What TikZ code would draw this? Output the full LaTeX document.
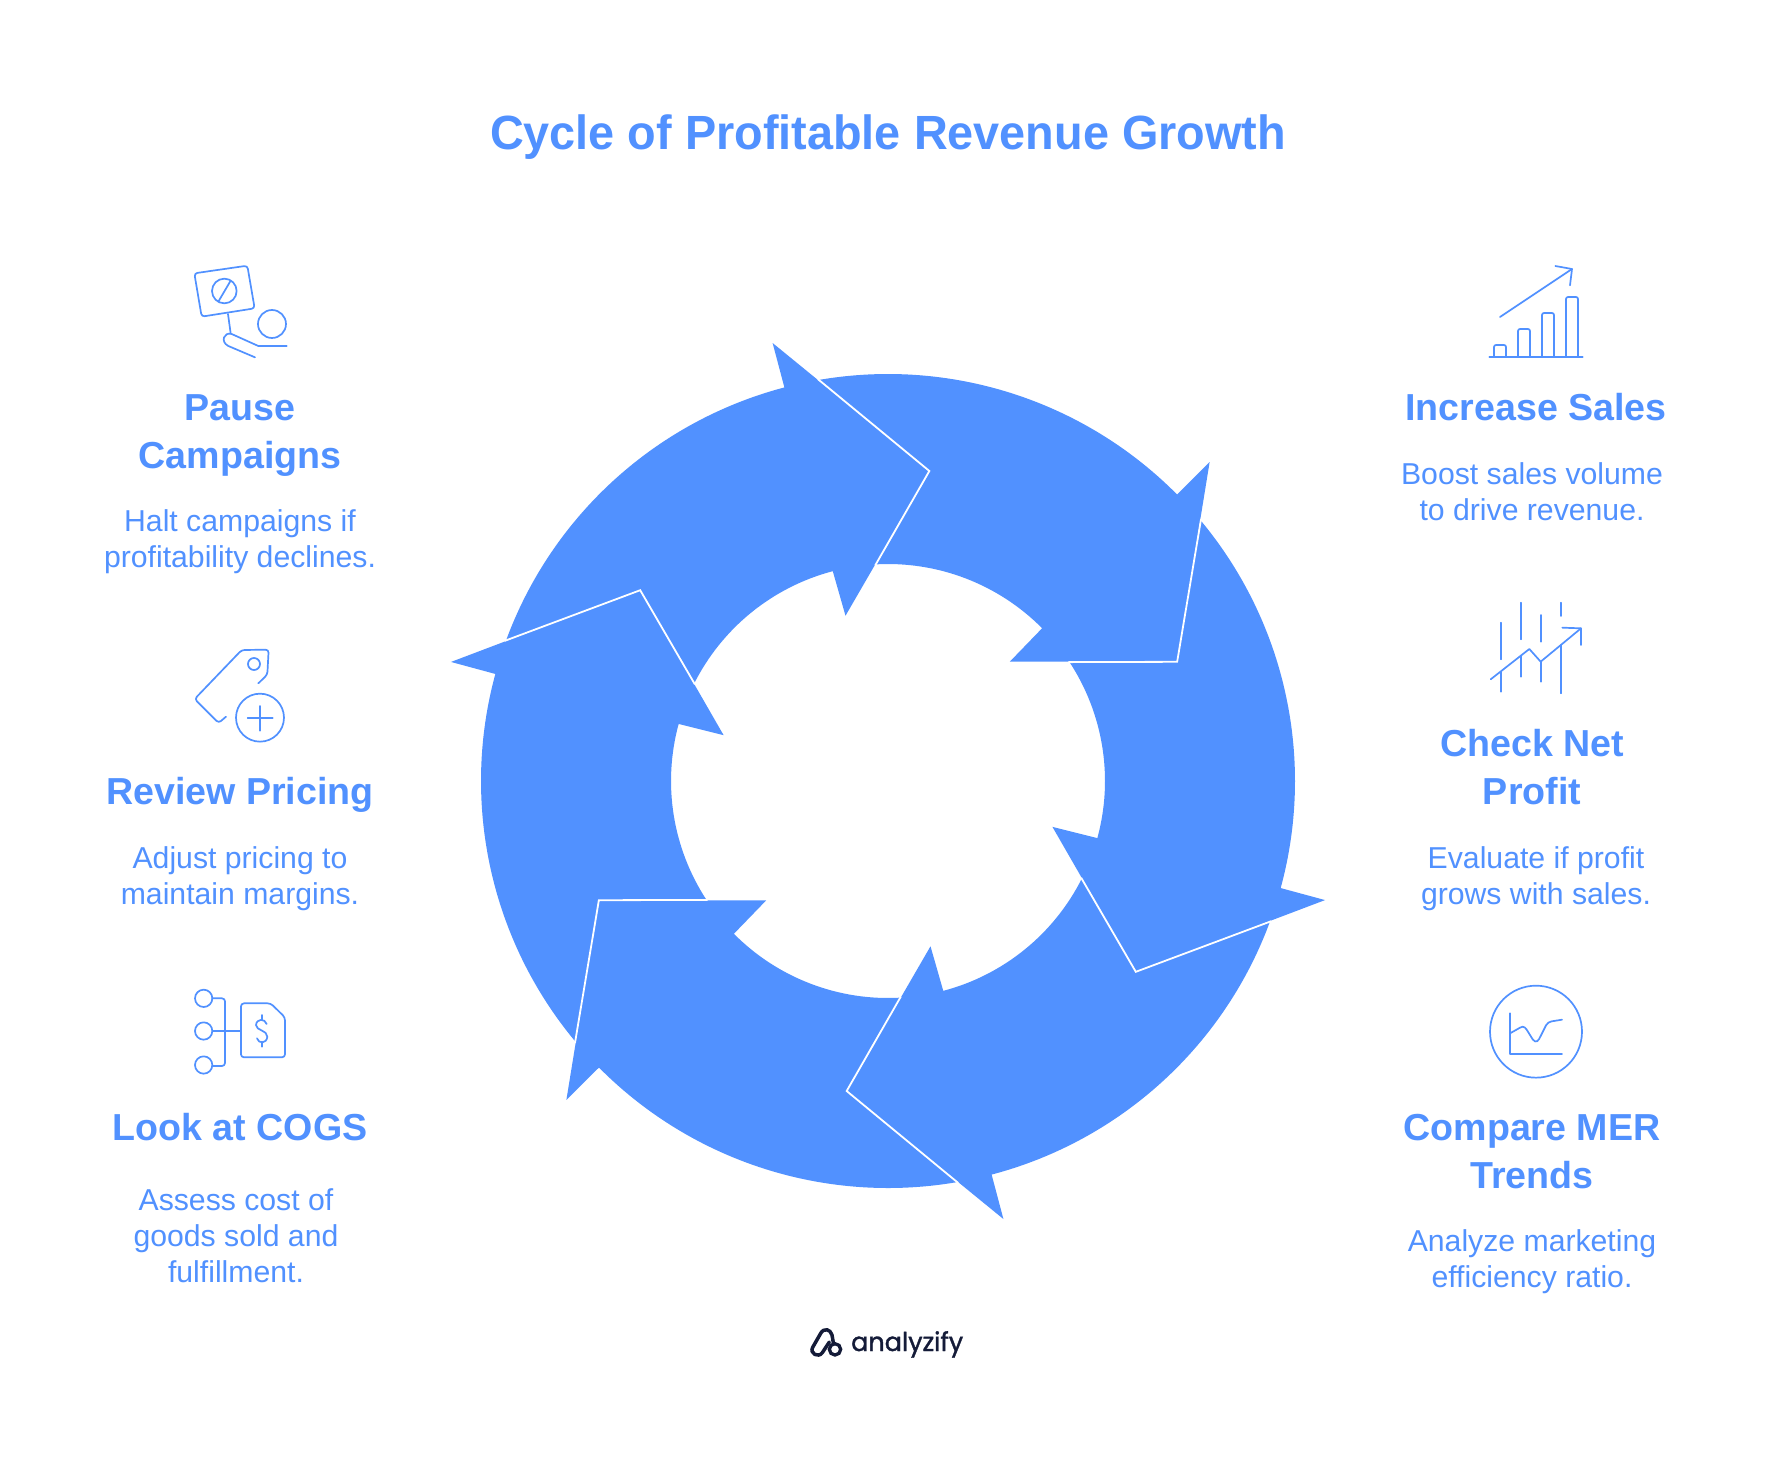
\documentclass[tikz,border=0pt]{standalone}
\usepackage{fontspec}
\setmainfont{Liberation Sans}
\newfontfamily\titlefont[FakeStretch=0.975]{Liberation Sans Bold}
\newfontfamily\logofont[FakeBold=1.3,FakeStretch=0.98]{Poppins}
\definecolor{brand}{HTML}{5191FF}
\definecolor{navy}{HTML}{141B38}
\tikzset{
  headtext/.style={text=brand,align=center,inner sep=0pt,font=\bfseries\fontsize{37.6}{48}\selectfont},
  bodytext/.style={text=brand,align=center,inner sep=0pt,font=\fontsize{30.2}{36}\selectfont},
  ico/.style={draw=brand,line width=1.7pt,line cap=round,line join=round},
}
\newcommand{\ringarrow}[1]{%
  \begin{scope}[y=1pt,rotate=#1]
    \fill[brand] (159.9:407) arc[start angle=159.9,end angle=104.75,radius=407]
      -- (-115.4,438) -- (41.3,310) -- (-42.5,165.3) -- (104.75:217)
      arc[start angle=104.75,end angle=153.4,radius=217] -- (-247.8,190.8) -- cycle;
  \end{scope}}
\newcommand{\ringgap}[1]{%
  \begin{scope}[y=1pt,rotate=#1]
    \draw[white,line width=1.8pt,line join=miter] (159.9:408) -- (-247.8,190.8) -- (153.4:216);
  \end{scope}}
\begin{document}
\begin{tikzpicture}[x=1pt,y=-1pt]
\useasboundingbox (0,0) rectangle (1776,1459);
\fill[white] (0,0) rectangle (1776,1459);
\node[text=brand,inner sep=0pt,font=\titlefont\fontsize{48}{56}\selectfont] (title) at (888,137) {Cycle of Profitable Revenue Growth};
% ring
\begin{scope}[shift={(888,781)}]
  \foreach \k in {0,-60,-120,-180,-240,-300} {\ringarrow{\k}}
  \foreach \k in {0,-60,-120,-180,-240,-300} {\ringgap{\k}}
\end{scope}
% left column
\node[headtext] (h1) at (240,435.5) {Pause\\Campaigns};
\node[bodytext] (b1) at (240,542) {Halt campaigns if\\profitability declines.};
\node[headtext] (h2) at (240,795) {Review Pricing};
\node[bodytext] (b2) at (240,878.5) {Adjust pricing to\\maintain margins.};
\node[headtext] (h3) at (240,1127) {Look at COGS};
\node[bodytext] (b3) at (236,1236) {Assess cost of\\goods sold and\\fulfillment.};
% right column
\node[headtext] (h4) at (1536,407.5) {Increase Sales};
\node[bodytext] (b4) at (1532,492) {Boost sales volume\\to drive revenue.};
\node[headtext] (h5) at (1532,767) {Check Net\\Profit};
\node[bodytext] (b5) at (1536,878.5) {Evaluate if profit\\grows with sales.};
\node[headtext] (h6) at (1532,1152) {Compare MER\\Trends};
\node[bodytext] (b6) at (1532,1262) {Analyze marketing\\efficiency ratio.};
% pause icon
\begin{scope}[shift={(160,240)},x=.3333pt,y=-.3333pt]
  \draw[ico,rounded corners=3pt] (103,100) -- (262,77) -- (284,205) -- (125,230) -- cycle;
  \draw[ico] (193,153) circle[radius=37];
  \draw[ico] (175,185) -- (212,122);
  \draw[ico] (204,222) -- (212,280);
  \draw[ico] (336,252) circle[radius=42];
  \draw[ico] (380,318) -- (295,318) -- (215,282) .. controls (192,275) and (180,305) .. (205,318) -- (285,352);
\end{scope}
% review icon
\begin{scope}[shift={(160,630)},x=.3333pt,y=-.3333pt]
  \draw[ico,rounded corners=3pt] (295,160) -- (322,134) -- (326,59) -- (245,60) -- (104,207) -- (176,279) -- (198,260);
  \draw[ico] (282,102) circle[radius=18];
  \draw[ico] (300,263) circle[radius=72];
  \draw[ico] (263,263) -- (338,263);
  \draw[ico] (300,228) -- (300,302);
\end{scope}
% cogs icon
\begin{scope}[shift={(160,970)},x=.3333pt,y=-.3333pt]
  \draw[ico] (131,85) circle[radius=26];
  \draw[ico] (131,183) circle[radius=26];
  \draw[ico] (131,285) circle[radius=26];
  \draw[ico,rounded corners=3pt] (157,85) -- (195,85) -- (195,288) -- (157,288);
  \draw[ico] (157,183) -- (243,183);
  \draw[ico,rounded corners=3pt] (243,100) -- (332,100) -- (375,142) -- (375,262) -- (243,262) -- cycle;
  \draw[ico] (306,135) -- (306,150);
  \draw[ico] (306,215) -- (306,230);
  \draw[ico] (320,162) .. controls (315,145) and (290,145) .. (288,165) .. controls (288,182) and (322,180) .. (322,200) .. controls (320,222) and (296,222) .. (291,205);
\end{scope}
% increase icon
\begin{scope}[shift={(1460,250)},x=.3333pt,y=-.3333pt]
  \draw[ico] (88,321) -- (368,321);
  \foreach \a/\b/\t in {102/138/285,174/210/237,246/282/189,318/354/141}
    \draw[ico,rounded corners=2pt] (\a,321) -- (\a,\t) -- (\b,\t) -- (\b,321);
  \draw[ico] (120,201) -- (336,57);
  \draw[ico] (286,48) -- (336,57) -- (330,106);
\end{scope}
% check icon
\begin{scope}[shift={(1460,590)},x=.3333pt,y=-.3333pt]
  \foreach \x/\a/\b in {122/98/208,122/245/305,182/38/148,182/197/260,242/75/155,242/215/275,302/38/78,302/165/310}
    \draw[ico] (\x,\a) -- (\x,\b);
  \draw[ico] (92,268) -- (208,177) -- (242,215) -- (363,115);
  \draw[ico] (307,113) -- (363,115) -- (363,165);
\end{scope}
% compare icon
\begin{scope}[shift={(1460,970)},x=.3333pt,y=-.3333pt]
  \draw[ico] (228,185) circle[radius=138];
  \draw[ico] (150,130) -- (150,252) -- (306,252);
  \draw[ico] (150,190) -- (180,173) .. controls (192,165) and (198,175) .. (205,187) -- (218,208) .. controls (228,222) and (236,212) .. (242,198) -- (258,166) .. controls (262,158) and (268,156) .. (275,154) -- (306,149);
\end{scope}
% logo
\begin{scope}[shift={(790,1310)},x=.3333pt,y=-.3333pt]
  \draw[navy,line width=3.5pt,line cap=round,line join=round] (118,96) -- (97,128) .. controls (85,145) and (58,130) .. (68,112) -- (92,70) .. controls (102,52) and (122,58) .. (126,75) -- (130,98);
  \draw[navy,line width=3.3pt] (135,118) circle[radius=17];
\end{scope}
\node[text=navy,inner sep=0pt,anchor=base west,font=\logofont\fontsize{26}{32}\selectfont] (logo) at (851,1351) {analyzify};
\end{tikzpicture}
\end{document}
